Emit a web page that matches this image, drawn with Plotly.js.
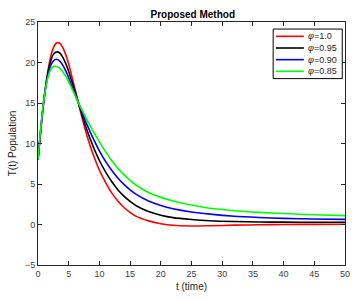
<!DOCTYPE html>
<html>
<head>
<meta charset="utf-8">
<script src="https://cdn.plot.ly/plotly-3.0.1.min.js"></script>
<style>html,body{margin:0;padding:0;background:#fff;}#chart{width:357px;height:301px;}</style>
</head>
<body>
<div id="chart"></div>
<script>
const tVals = [0,0.5,1,1.5,2,2.5,3,3.5,4,4.5,5,6,7,8,9,10,11,12,13,14,15,16,18,20,22,25,28,32,36,40,45,50];
const phi100 = [8,12.0,15.6,18.4,20.5,21.8,22.4,22.4,21.9,21.0,19.8,16.8,13.7,10.9,8.6,6.7,5.2,3.9,2.9,2.1,1.5,1.0,0.45,0.1,-0.1,-0.18,-0.15,-0.08,-0.03,0,0.02,0.03];
const phi095 = [8,12.1,15.6,18.2,20.0,21.0,21.3,21.2,20.7,19.9,18.9,16.5,14.0,11.6,9.6,7.9,6.5,5.3,4.3,3.5,2.85,2.32,1.6,1.15,0.85,0.62,0.47,0.37,0.31,0.29,0.28,0.27];
const phi090 = [8,12.2,15.6,18.0,19.5,20.2,20.4,20.2,19.7,19.0,18.1,16.1,14.2,12.3,10.6,9.1,7.8,6.7,5.75,4.95,4.28,3.72,2.9,2.35,1.95,1.55,1.28,1.02,0.87,0.76,0.68,0.63];
const phi085 = [8,12.3,15.6,17.8,19.0,19.5,19.5,19.3,18.9,18.3,17.6,16.0,14.4,12.9,11.5,10.2,9.0,7.9,6.95,6.15,5.45,4.85,3.95,3.35,2.9,2.4,2.0,1.7,1.5,1.35,1.2,1.1];
const seriesNames = ['<i>φ</i>=1.0','<i>φ</i>=0.95','<i>φ</i>=0.90','<i>φ</i>=0.85'];
const seriesColors = ['#ff0000','#000000','#0000ff','#00ff00'];
const seriesData = [phi100, phi095, phi090, phi085];
const xTicks = [0,5,10,15,20,25,30,35,40,45,50];
const yTicks = [-5,0,5,10,15,20,25];

const FONT = 'Liberation Sans, Arial, sans-serif';

const traces = seriesData.map((ys,i)=>({
  x: tVals, y: ys, type:'scatter', mode:'lines', name: seriesNames[i], showlegend:false,
  line:{color: seriesColors[i], width:1.6, shape:'spline', smoothing:0.8}
}));

// manual compact legend (MATLAB style)
const legendRowsY = [0.941, 0.893, 0.845, 0.797];
const shapes = [{type:'rect', xref:'paper', yref:'paper', x0:0.766, x1:0.991, y0:0.767, y1:0.971,
  line:{color:'#000', width:1}, fillcolor:'#fff', layer:'above'}];
const annotations = [];
seriesNames.forEach((nm,i)=>{
  shapes.push({type:'line', xref:'paper', yref:'paper', x0:0.775, x1:0.866, y0:legendRowsY[i], y1:legendRowsY[i],
    line:{color:seriesColors[i], width:1.6}, layer:'above'});
  annotations.push({xref:'paper', yref:'paper', x:0.873, y:legendRowsY[i], xanchor:'left', yanchor:'middle',
    text:nm, showarrow:false, font:{family:FONT, size:9, color:'#262626'}});
});

const axisCommon = {
  showgrid:false, zeroline:false, showline:true, linecolor:'#262626', linewidth:1,
  mirror:'ticks', ticks:'inside', ticklen:4, tickcolor:'#262626',
  tickfont:{family:FONT, size:9, color:'#404040'}
};

const layout = {
  width:357, height:301,
  margin:{l:38, r:12, t:22, b:36, pad:0},
  paper_bgcolor:'#fff', plot_bgcolor:'#fff',
  title:{text:'<b>Proposed Method</b>', x:0.54, xanchor:'center', yref:'container', y:0.953, yanchor:'middle',
    font:{family:FONT, size:10, color:'#000'}},
  xaxis:Object.assign({}, axisCommon, {range:[0,50], tickvals:xTicks,
    title:{text:'t (time)', standoff:5, font:{family:FONT, size:10, color:'#262626'}}}),
  yaxis:Object.assign({}, axisCommon, {range:[-5,25], tickvals:yTicks,
    title:{text:'T(t) Population', standoff:6, font:{family:FONT, size:10, color:'#262626'}}}),
  showlegend:false,
  shapes: shapes,
  annotations: annotations
};

Plotly.newPlot('chart', traces, layout, {displayModeBar:false, staticPlot:true});
</script>
</body>
</html>
